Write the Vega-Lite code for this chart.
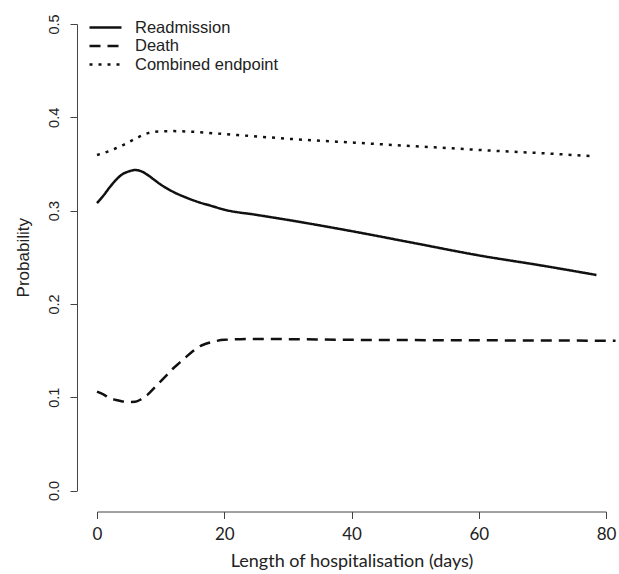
{
  "$schema": "https://vega.github.io/schema/vega-lite/v6.json",
  "width": 509,
  "height": 466.5,
  "autosize": {"type": "none"},
  "padding": {"left": 97, "top": 24, "right": 13, "bottom": 83.5},
  "background": "white",
  "config": {"view": {"stroke": null}, "font": "Liberation Sans"},
  "data": {"values": [
    {"day": 0, "p": 0.308, "series": "Readmission"},
    {"day": 1, "p": 0.316, "series": "Readmission"},
    {"day": 2, "p": 0.325, "series": "Readmission"},
    {"day": 3, "p": 0.333, "series": "Readmission"},
    {"day": 4, "p": 0.339, "series": "Readmission"},
    {"day": 5, "p": 0.342, "series": "Readmission"},
    {"day": 6, "p": 0.3435, "series": "Readmission"},
    {"day": 7, "p": 0.342, "series": "Readmission"},
    {"day": 8, "p": 0.338, "series": "Readmission"},
    {"day": 9, "p": 0.333, "series": "Readmission"},
    {"day": 10, "p": 0.328, "series": "Readmission"},
    {"day": 12, "p": 0.32, "series": "Readmission"},
    {"day": 14, "p": 0.314, "series": "Readmission"},
    {"day": 16, "p": 0.309, "series": "Readmission"},
    {"day": 18, "p": 0.305, "series": "Readmission"},
    {"day": 20, "p": 0.301, "series": "Readmission"},
    {"day": 25, "p": 0.2955, "series": "Readmission"},
    {"day": 30, "p": 0.29, "series": "Readmission"},
    {"day": 40, "p": 0.278, "series": "Readmission"},
    {"day": 50, "p": 0.265, "series": "Readmission"},
    {"day": 60, "p": 0.252, "series": "Readmission"},
    {"day": 70, "p": 0.241, "series": "Readmission"},
    {"day": 78.5, "p": 0.231, "series": "Readmission"},
    {"day": 0, "p": 0.106, "series": "Death"},
    {"day": 1, "p": 0.103, "series": "Death"},
    {"day": 2, "p": 0.099, "series": "Death"},
    {"day": 3, "p": 0.097, "series": "Death"},
    {"day": 4, "p": 0.0955, "series": "Death"},
    {"day": 5, "p": 0.0948, "series": "Death"},
    {"day": 6, "p": 0.095, "series": "Death"},
    {"day": 7, "p": 0.098, "series": "Death"},
    {"day": 8, "p": 0.103, "series": "Death"},
    {"day": 9, "p": 0.11, "series": "Death"},
    {"day": 10, "p": 0.117, "series": "Death"},
    {"day": 11, "p": 0.124, "series": "Death"},
    {"day": 12, "p": 0.131, "series": "Death"},
    {"day": 13, "p": 0.137, "series": "Death"},
    {"day": 14, "p": 0.143, "series": "Death"},
    {"day": 15, "p": 0.149, "series": "Death"},
    {"day": 16, "p": 0.154, "series": "Death"},
    {"day": 17, "p": 0.157, "series": "Death"},
    {"day": 18, "p": 0.159, "series": "Death"},
    {"day": 20, "p": 0.1615, "series": "Death"},
    {"day": 25, "p": 0.1625, "series": "Death"},
    {"day": 30, "p": 0.1622, "series": "Death"},
    {"day": 40, "p": 0.1615, "series": "Death"},
    {"day": 60, "p": 0.161, "series": "Death"},
    {"day": 81.5, "p": 0.1605, "series": "Death"},
    {"day": 0, "p": 0.3596, "series": "Combined endpoint"},
    {"day": 2, "p": 0.364, "series": "Combined endpoint"},
    {"day": 4, "p": 0.37, "series": "Combined endpoint"},
    {"day": 6, "p": 0.377, "series": "Combined endpoint"},
    {"day": 8, "p": 0.383, "series": "Combined endpoint"},
    {"day": 10, "p": 0.385, "series": "Combined endpoint"},
    {"day": 12, "p": 0.3852, "series": "Combined endpoint"},
    {"day": 15, "p": 0.3845, "series": "Combined endpoint"},
    {"day": 20, "p": 0.382, "series": "Combined endpoint"},
    {"day": 26, "p": 0.379, "series": "Combined endpoint"},
    {"day": 30, "p": 0.377, "series": "Combined endpoint"},
    {"day": 40, "p": 0.373, "series": "Combined endpoint"},
    {"day": 50, "p": 0.369, "series": "Combined endpoint"},
    {"day": 54, "p": 0.3675, "series": "Combined endpoint"},
    {"day": 60, "p": 0.365, "series": "Combined endpoint"},
    {"day": 70, "p": 0.3615, "series": "Combined endpoint"},
    {"day": 77.5, "p": 0.3585, "series": "Combined endpoint"}
  ]},
  "mark": {"type": "line", "color": "#111", "strokeWidth": 2.5, "interpolate": "monotone", "clip": false},
  "encoding": {
    "x": {
      "field": "day", "type": "quantitative",
      "scale": {"domain": [0, 80], "nice": false, "zero": false},
      "axis": {
        "title": "Length of hospitalisation (days)",
        "values": [0, 20, 40, 60, 80],
        "grid": false, "offset": 21, "tickSize": 7,
        "domainColor": "#444", "tickColor": "#444", "domainWidth": 1, "tickWidth": 1,
        "labelFont": "Lato", "labelFontSize": 17, "labelColor": "#222", "labelPadding": 8,
        "labelFlush": false,
        "titleFont": "Lato", "titleFontSize": 18, "titleFontWeight": "normal", "titleColor": "#222", "titlePadding": 10
      }
    },
    "y": {
      "field": "p", "type": "quantitative",
      "scale": {"domain": [0, 0.5], "nice": false, "zero": false},
      "axis": {
        "title": "Probability",
        "values": [0, 0.1, 0.2, 0.3, 0.4, 0.5],
        "format": ".1f",
        "grid": false, "offset": 20, "tickSize": 7,
        "domainColor": "#444", "tickColor": "#444", "domainWidth": 1, "tickWidth": 1,
        "labelAngle": -90, "labelAlign": "center", "labelBaseline": "bottom",
        "labelFontSize": 14.5, "labelColor": "#222", "labelPadding": 9, "labelFlush": false,
        "titleFontSize": 17, "titleFontWeight": "normal", "titleColor": "#222", "titlePadding": 14
      }
    },
    "strokeDash": {
      "field": "series", "type": "nominal",
      "scale": {"domain": ["Readmission", "Death", "Combined endpoint"], "range": [[1, 0], [11, 7], [3, 6]]},
      "legend": {
        "title": null, "orient": "none", "legendX": -1, "legendY": -6,
        "symbolType": "M-2,0H2", "symbolSize": 256, "symbolStrokeWidth": 2.5, "symbolStrokeColor": "#111",
        "labelFontSize": 16.5, "labelColor": "#222", "labelOffset": 20, "rowPadding": 0.5
      }
    }
  }
}
